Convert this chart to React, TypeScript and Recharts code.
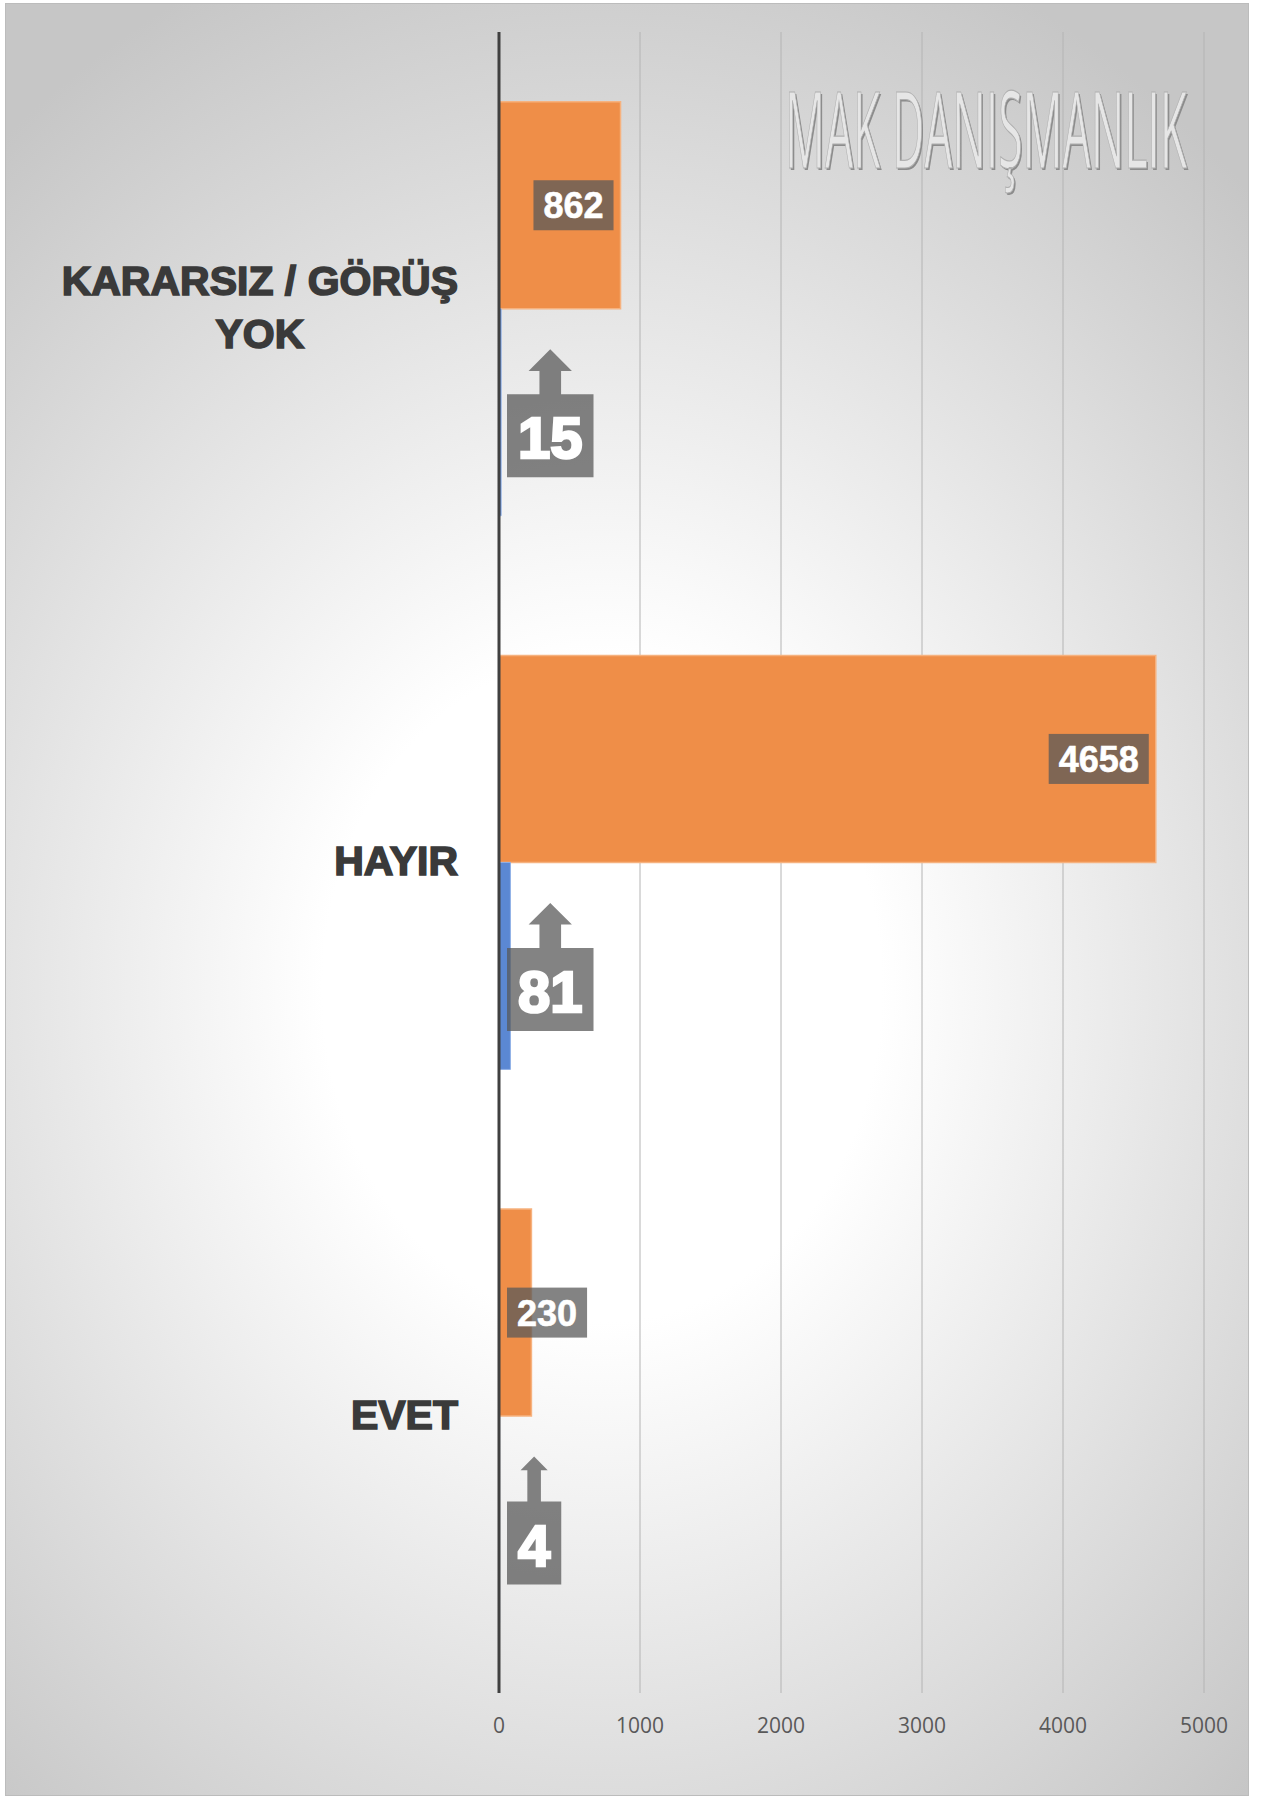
import { BarChart, Bar, XAxis, YAxis, CartesianGrid, LabelList } from 'recharts';

// chart values
const categories = ['KARARSIZ / GÖRÜŞ YOK', 'HAYIR', 'EVET'];
const orangeValues = [862, 4658, 230];
const blueValues = [15, 81, 4];
const xTicks = [0, 1000, 2000, 3000, 4000, 5000];

const data = categories.map((name, i) => ({ name, seri2: orangeValues[i], seri1: blueValues[i] }));

const BOX_FILL = '#595959';
const BOX_OPACITY = 0.745;

let canvas: HTMLCanvasElement | null = null;
const measure = (text: string, font: string) => {
    if (!canvas) canvas = document.createElement('canvas');
    const ctx = canvas.getContext('2d')!;
    ctx.font = font;
    return ctx.measureText(text).width;
};

const CAT_FONT = 'bold 41px "Liberation Sans"';

// greedy wrap of the category names
const wrap = (text: string, maxW = 420) => {
    const words = text.split(' ');
    const lines: string[] = [];
    let cur = '';
    words.forEach(w => {
        const next = cur ? `${cur} ${w}` : w;
        if (cur && measure(next, CAT_FONT) > maxW) {
            lines.push(cur);
            cur = w;
        } else {
            cur = next;
        }
    });
    if (cur) lines.push(cur);
    return lines;
};

const CategoryTick = (props: any) => {
    const { x, y, payload } = props;
    const lines = wrap(String(payload.value));
    const maxW = Math.max(...lines.map(l => measure(l, CAT_FONT)));
    const lh = 53;
    const startY = y - ((lines.length - 1) * lh) / 2 - 2;
    return (
        <g>
            {lines.map((l, i) => (
                <text
                    key={i}
                    x={lines.length > 1 ? x - maxW / 2 : x}
                    y={startY + i * lh + 14.7}
                    textAnchor={lines.length > 1 ? 'middle' : 'end'}
                    fontFamily="Liberation Sans"
                    fontWeight="bold"
                    fontSize={41}
                    fill="#3a3a3a"
                    stroke="#3a3a3a"
                    strokeWidth={1.6}
                >
                    {l}
                </text>
            ))}
        </g>
    );
};

// value box near the end of the orange bars
const OrangeLabel = (props: any) => {
    const { x, y, width, height, value } = props;
    const font = 'bold 36px "Liberation Sans"';
    const w = measure(String(value), font) + 20;
    const h = 50;
    const end = x + width;
    const bx = Math.max(end - 7 - w, x + 8);
    const cy = y + height / 2;
    return (
        <g>
            <rect x={bx} y={cy - h / 2} width={w} height={h} fill={BOX_FILL} fillOpacity={BOX_OPACITY} />
            <text x={bx + w / 2} y={cy + 13} textAnchor="middle" fontFamily="Liberation Sans" fontWeight="bold" fontSize={36} fill="#fff" stroke="#fff" strokeWidth={0.6}>
                {value}
            </text>
        </g>
    );
};

// up-arrow callout for the blue bars
const ArrowLabel = (props: any) => {
    const { x, y, height, value } = props;
    const font = 'bold 58px "Liberation Sans"';
    const w = measure(String(value), font) + 22;
    const bx = x + 8;
    const cx = bx + w / 2;
    const cy = y + height / 2 + 1;
    const top = cy - 64;
    const boxTop = cy - 19;
    const boxH = 83;
    const headH = w / 4;
    const headW = w / 2;
    const shaftW = w / 4;
    const d = [
        `M${cx},${top}`,
        `L${cx + headW / 2},${top + headH}`,
        `L${cx + shaftW / 2},${top + headH}`,
        `L${cx + shaftW / 2},${boxTop}`,
        `L${bx + w},${boxTop}`,
        `L${bx + w},${boxTop + boxH}`,
        `L${bx},${boxTop + boxH}`,
        `L${bx},${boxTop}`,
        `L${cx - shaftW / 2},${boxTop}`,
        `L${cx - shaftW / 2},${top + headH}`,
        `L${cx - headW / 2},${top + headH}`,
        'Z',
    ].join(' ');
    return (
        <g>
            <path d={d} fill={BOX_FILL} fillOpacity={BOX_OPACITY} />
            <text x={cx} y={boxTop + 64} textAnchor="middle" fontFamily="Liberation Sans" fontWeight="bold" fontSize={58} fill="#fff" stroke="#fff" strokeWidth={2.6}>
                {value}
            </text>
        </g>
    );
};

export default function App() {
    return (
        <div style={{ position: 'absolute', left: 0, top: 0, width: 1270, height: 1796, background: '#fff' }}>
            <div
                style={{
                    position: 'absolute',
                    left: 5,
                    top: 3,
                    width: 1242,
                    height: 1791,
                    border: '1px solid #bcbcbc',
                    background: 'radial-gradient(ellipse 75% 62% at 48% 55%, #ffffff 0%, #ffffff 30%, #c6c6c6 100%)',
                }}
            />
            <div style={{ position: 'absolute', left: 0, top: 0 }}>
                <BarChart
                    width={1270}
                    height={1796}
                    data={data}
                    layout="vertical"
                    margin={{ top: 32, right: 66, bottom: 43, left: 0 }}
                    barCategoryGap="12.6%"
                    barGap={0}
                >
                    <CartesianGrid horizontal={false} stroke="#b4b4b4" strokeWidth={1} />
                    <XAxis
                        type="number"
                        domain={[0, 5000]}
                        ticks={xTicks}
                        axisLine={false}
                        tickLine={false}
                        tickSize={0}
                        tickMargin={25}
                        height={60}
                        tick={{ fill: '#595959', fontSize: 21, fontFamily: 'Open Sans' }}
                    />
                    <YAxis
                        type="category"
                        dataKey="name"
                        width={499}
                        tickLine={false}
                        tickSize={0}
                        tickMargin={41}
                        axisLine={{ stroke: '#404040', strokeWidth: 3 }}
                        tick={(p: any) => <CategoryTick {...p} />}
                    />
                    <Bar dataKey="seri2" fill="#EF8E48" stroke="#F6B27F" strokeWidth={1.5} isAnimationActive={false}>
                        <LabelList dataKey="seri2" content={(p: any) => <OrangeLabel {...p} />} />
                    </Bar>
                    <Bar dataKey="seri1" fill="#5B88D3" stroke="#8FB0E6" strokeWidth={1} isAnimationActive={false}>
                        <LabelList dataKey="seri1" content={(p: any) => <ArrowLabel {...p} />} />
                    </Bar>
                </BarChart>
            </div>
            {/* embossed watermark */}
            <svg width={1270} height={1796} style={{ position: 'absolute', left: 0, top: 0, pointerEvents: 'none' }}>
                <g transform="translate(786.5,170) scale(1,2.95)">
                    <text x={0} y={0} fontFamily="Open Sans" fontSize={36} textLength={402} lengthAdjust="spacingAndGlyphs" fill="#8c8c8c">
                        MAK DANIŞMANLIK
                    </text>
                </g>
                <g transform="translate(785,168) scale(1,2.95)">
                    <text x={0} y={0} fontFamily="Open Sans" fontSize={36} textLength={402} lengthAdjust="spacingAndGlyphs" fill="#e6e6e6" stroke="#b0b0b0" strokeWidth={0.4}>
                        MAK DANIŞMANLIK
                    </text>
                </g>
            </svg>
        </div>
    );
}
